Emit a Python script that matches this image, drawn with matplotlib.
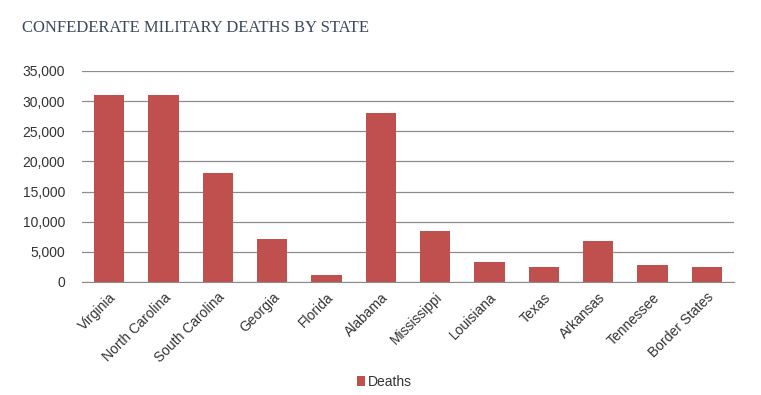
import matplotlib
matplotlib.use("Agg")
import matplotlib.pyplot as plt
from matplotlib.ticker import FuncFormatter

ROJO = "#C0504D"
GRID = "#8C8C8C"
TINTA = "#333333"

states = ["Virginia", "North Carolina", "South Carolina", "Georgia", "Florida",
          "Alabama", "Mississippi", "Louisiana", "Texas", "Arkansas",
          "Tennessee", "Border States"]
deaths = [31000, 31000, 18000, 7200, 1200, 28000, 8400, 3300, 2500, 6800, 2800, 2500]
yticks = [0, 5000, 10000, 15000, 20000, 25000, 30000, 35000]

plt.rcParams["font.family"] = "Liberation Sans"

fig = plt.figure(figsize=(7.61, 3.95), dpi=100)
ax = fig.add_axes([0.1078, 0.2861, 0.8567, 0.5342])

x = list(range(len(states)))
ax.bar(x, deaths, width=0.56, color=ROJO, zorder=3, label="Deaths")

ax.set_xlim(-0.5, len(states) - 0.5)
ax.set_ylim(0, 35000)
ax.set_yticks(yticks)
ax.yaxis.set_major_formatter(FuncFormatter(lambda v, p: f"{int(v):,}"))
ax.grid(axis="y", color=GRID, lw=0.9, zorder=0)
ax.set_xticks(x)
ax.set_xticklabels(states, rotation=45, ha="right", rotation_mode="anchor")
ax.tick_params(axis="both", length=0, labelsize=10, colors=TINTA)
ax.tick_params(axis="y", pad=12)
ax.tick_params(axis="x", pad=6)
for sp in ["top", "right", "left"]:
    ax.spines[sp].set_visible(False)
ax.spines["bottom"].set_color(GRID)
ax.spines["bottom"].set_zorder(4)

fig.text(0.029, 0.93, "CONFEDERATE MILITARY DEATHS BY STATE", family="Liberation Serif",
         fontsize=12, color="#3B4A5E", va="center", ha="left")

fig.legend(loc="center", bbox_to_anchor=(0.505, 0.033), frameon=False, fontsize=10,
           handlelength=0.6, handleheight=0.7, handletextpad=0.15,
           labelcolor=TINTA)

fig.savefig("out.png", dpi=100)
